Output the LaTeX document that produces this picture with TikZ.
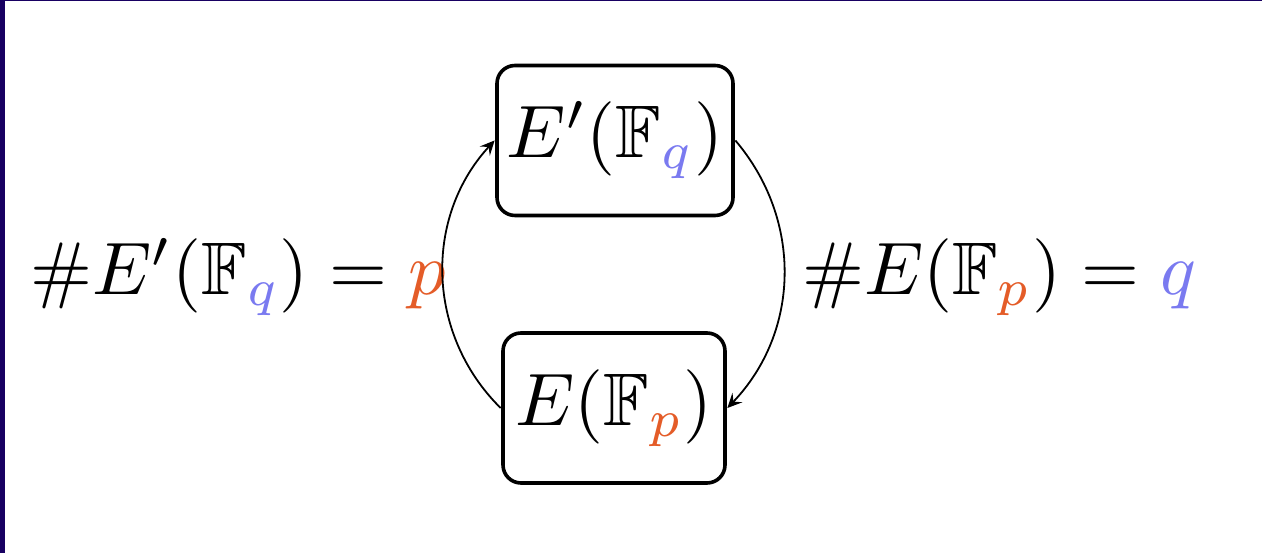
\documentclass[tikz,border=0pt]{standalone}
\usepackage{graphicx}
\usepackage{amsmath,amssymb}
\usetikzlibrary{arrows.meta}
\definecolor{qblue}{RGB}{122,122,240}
\definecolor{porange}{RGB}{228,92,40}
\definecolor{frameblue}{RGB}{24,0,98}
\newcommand{\qq}{\textcolor{qblue}{q}}
\newcommand{\pp}{\textcolor{porange}{p}}
\newcommand{\mybig}[1]{\scalebox{1.86}{#1}}
\begin{document}
\begin{tikzpicture}[x=0.25pt,y=-0.25pt,
  lbl/.style={inner sep=0pt},
  fieldbox/.style={lbl, draw, line width=0.9pt, rounded corners=4.5pt, minimum height=37.5pt, outer sep=0.6pt},
  conn/.style={line width=0.45pt, -{Stealth[length=3.6pt,width=3.4pt,inset=1.4pt]}}]
\useasboundingbox (0,0) rectangle (1262,553);
\fill[frameblue] (0,0) rectangle (5,553);
\fill[frameblue] (0,0) rectangle (1262,1.2);
\node[fieldbox, minimum width=59pt] (top) at (615,140.5) {\mybig{$E'(\mathbb{F}_{\qq})$}};
\node[fieldbox, minimum width=55.5pt] (bot) at (614,408) {\mybig{$E(\mathbb{F}_{\pp})$}};
\node[lbl] (left) at (238,277) {\mybig{$\#E'(\mathbb{F}_{\qq}) = \pp$}};
\node[lbl] (right) at (999,277) {\mybig{$\#E(\mathbb{F}_{\pp}) = \qq$}};
\draw[conn] (bot.west) to[bend left=44] (top.west);
\draw[conn] (top.east) to[bend left=42] (bot.east);
\end{tikzpicture}
\end{document}
